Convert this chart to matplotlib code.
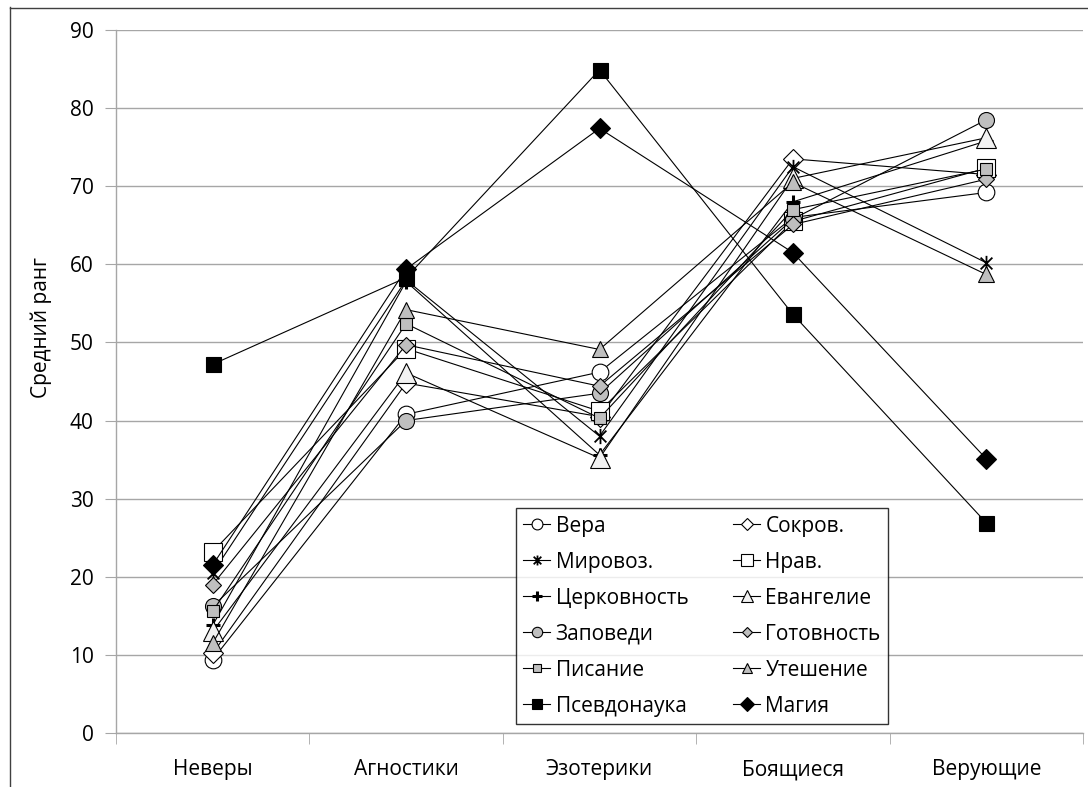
import numpy as np
import matplotlib
matplotlib.use("Agg")
from matplotlib import pyplot as plt
from matplotlib.path import Path
from matplotlib.lines import Line2D

plt.rcParams['font.family'] = ['Open Sans', 'DejaVu Sans']

# groups along the x axis
groups = ['Неверы', 'Агностики', 'Эзотерики', 'Боящиеся', 'Верующие']

# mean rank per scale and group
vera = [9.4, 40.8, 46.2, 66.0, 69.2]
sokrov = [10.2, 44.8, 40.5, 73.5, 71.5]
mirovoz = [20.5, 58.0, 38.0, 72.5, 60.2]
nrav = [23.2, 49.2, 41.2, 65.5, 72.3]
tserkov = [13.8, 57.8, 35.6, 68.0, 75.8]
evang = [13.0, 46.1, 35.2, 71.0, 76.2]
zapovedi = [16.2, 40.0, 43.5, 65.8, 78.5]
gotov = [19.0, 49.7, 44.4, 65.1, 70.9]
pisanie = [15.6, 52.4, 40.3, 67.0, 72.2]
uteshenie = [11.5, 54.2, 49.1, 70.5, 58.7]
pseudo = [47.2, 58.3, 84.9, 53.6, 26.9]
magia = [21.5, 59.4, 77.4, 61.5, 35.1]

# asterisk = X with a vertical stroke
star = Path([(-1, -1), (1, 1), (-1, 1), (1, -1), (0, -1.3), (0, 1.3)],
            [Path.MOVETO, Path.LINETO, Path.MOVETO, Path.LINETO, Path.MOVETO, Path.LINETO])

GRAY = '#BFBFBF'
series = [
    ('Вера', vera, 'o', 'white', 12),
    ('Сокров.', sokrov, 'D', 'white', 10),
    ('Мировоз.', mirovoz, star, 'none', 11),
    ('Нрав.', nrav, 's', 'white', 13),
    ('Церковность', tserkov, '+', 'none', 10),
    ('Евангелие', evang, '^', '#F2F2F2', 14),
    ('Заповеди', zapovedi, 'o', GRAY, 11.5),
    ('Готовность', gotov, 'D', GRAY, 8.2),
    ('Писание', pisanie, 's', GRAY, 8.6),
    ('Утешение', uteshenie, '^', GRAY, 12),
    ('Псевдонаука', pseudo, 's', 'black', 10.8),
    ('Магия', magia, 'D', 'black', 10.6),
]

fig = plt.figure(figsize=(10.88, 7.87), dpi=100)
ax = fig.add_axes([116/1088, 1 - 733/787, (1083 - 116)/1088, (733 - 30)/787])

x = np.arange(len(groups))
handles = {}
for name, vals, mk, fc, ms in series:
    mew = 2.2 if mk == '+' else (1.3 if mk is star else 0.8)
    h, = ax.plot(x, vals, color='black', lw=0.8, marker=mk, markersize=ms,
                 markerfacecolor=fc, markeredgecolor='black', markeredgewidth=mew,
                 label=name)
    handles[name] = h

ax.set_xlim(-0.5, len(groups) - 0.5)
ax.set_ylim(0, 90)
ax.set_yticks(np.arange(0, 91, 10))
ax.set_xticks(x)
ax.set_xticklabels(groups)
ax.set_xticks(np.arange(-0.5, len(groups), 1), minor=True)
ax.tick_params(axis='x', which='major', length=0, pad=19, labelsize=15)
ax.tick_params(axis='x', which='minor', length=8, color='#A6A6A6', direction='out')
ax.tick_params(axis='y', length=8, color='#A6A6A6', labelsize=15, pad=8)
ax.yaxis.grid(True, color='#A6A6A6', lw=1)
ax.set_axisbelow(True)
for s in ('top', 'right'):
    ax.spines[s].set_visible(False)
for s in ('left', 'bottom'):
    ax.spines[s].set_color('#A6A6A6')
    ax.spines[s].set_linewidth(1)
ax.set_ylabel('Средний ранг', fontsize=15)
ax.yaxis.set_label_coords(-64/967, (733 - 328)/703)

# legend laid out row by row in two columns
order = ['Вера', 'Мировоз.', 'Церковность', 'Заповеди', 'Писание', 'Псевдонаука',
         'Сокров.', 'Нрав.', 'Евангелие', 'Готовность', 'Утешение', 'Магия']
leg = ax.legend([handles[n] for n in order], order, ncol=2, loc='lower left',
                bbox_to_anchor=((516 - 116)/967, (733 - 724)/703, (888 - 516)/967, (724 - 509)/703),
                mode='expand', fontsize=15, markerscale=0.65, handlelength=1.3,
                handletextpad=0.25, columnspacing=0.8, labelspacing=0.72,
                frameon=True, fancybox=False, borderpad=0.35, borderaxespad=0)
leg.get_frame().set_edgecolor('black')
leg.get_frame().set_linewidth(1)

# outer chart frame
fig.add_artist(Line2D([9.5/1088, 9.5/1088], [0, 1 - 7/787], color='#404040', lw=1))
fig.add_artist(Line2D([9.5/1088, 1], [1 - 7.5/787, 1 - 7.5/787], color='#404040', lw=1))

fig.savefig('out.png', dpi=100)
